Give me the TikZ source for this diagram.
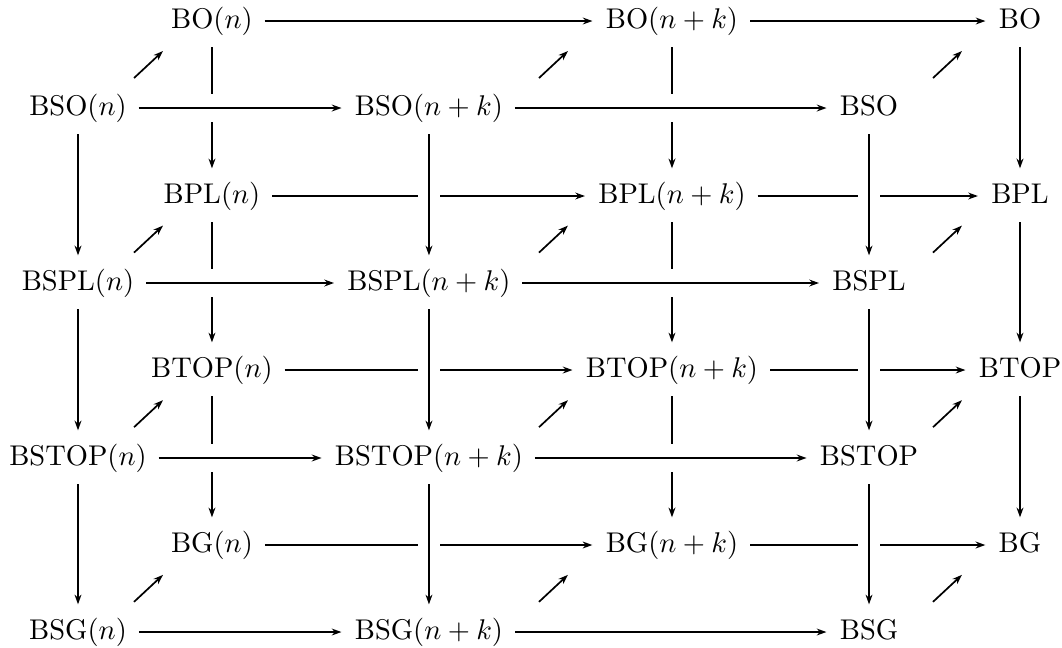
\documentclass[tikz,border=0pt]{standalone}
\usepackage{amsmath,amssymb}
\usetikzlibrary{arrows.meta}

\begin{document}
\begin{tikzpicture}[
  obj/.style={inner sep=4pt, text height=7.5pt, text depth=2.5pt},
  map/.style={-{Stealth[length=3.4pt,width=2.4pt]}, line width=0.6pt, shorten >=0.5pt},
  overh/.style={preaction={draw=white, -, line width=9.8pt}},
  overv/.style={preaction={draw=white, -, line width=7.7pt}}]
  \useasboundingbox (0,0) rectangle (13.097,-7.979);
  % back layer: unoriented groups
  \node[obj] (bon)    at (2.614,-0.259)  {$\mathrm{BO}(n)$};
  \node[obj] (bonk)   at (8.287,-0.259)  {$\mathrm{BO}(n+k)$};
  \node[obj] (bo)     at (12.579,-0.259) {$\mathrm{BO}$};
  \node[obj] (bpln)   at (2.614,-2.417)  {$\mathrm{BPL}(n)$};
  \node[obj] (bplnk)  at (8.287,-2.417)  {$\mathrm{BPL}(n+k)$};
  \node[obj] (bpl)    at (12.579,-2.417) {$\mathrm{BPL}$};
  \node[obj] (btopn)  at (2.614,-4.563)  {$\mathrm{BTOP}(n)$};
  \node[obj] (btopnk) at (8.287,-4.563)  {$\mathrm{BTOP}(n+k)$};
  \node[obj] (btop)   at (12.579,-4.563) {$\mathrm{BTOP}$};
  \node[obj] (bgn)    at (2.614,-6.721)  {$\mathrm{BG}(n)$};
  \node[obj] (bgnk)   at (8.287,-6.721)  {$\mathrm{BG}(n+k)$};
  \node[obj] (bg)     at (12.579,-6.721) {$\mathrm{BG}$};
  % front layer: oriented groups
  \node[obj] (bson)    at (0.962,-1.332)  {$\mathrm{BSO}(n)$};
  \node[obj] (bsonk)   at (5.290,-1.332)  {$\mathrm{BSO}(n+k)$};
  \node[obj] (bso)     at (10.717,-1.332) {$\mathrm{BSO}$};
  \node[obj] (bspln)   at (0.962,-3.490)  {$\mathrm{BSPL}(n)$};
  \node[obj] (bsplnk)  at (5.290,-3.490)  {$\mathrm{BSPL}(n+k)$};
  \node[obj] (bspl)    at (10.717,-3.490) {$\mathrm{BSPL}$};
  \node[obj] (bstopn)  at (0.962,-5.648)  {$\mathrm{BSTOP}(n)$};
  \node[obj] (bstopnk) at (5.290,-5.648)  {$\mathrm{BSTOP}(n+k)$};
  \node[obj] (bstop)   at (10.717,-5.648) {$\mathrm{BSTOP}$};
  \node[obj] (bsgn)    at (0.962,-7.794)  {$\mathrm{BSG}(n)$};
  \node[obj] (bsgnk)   at (5.290,-7.794)  {$\mathrm{BSG}(n+k)$};
  \node[obj] (bsg)     at (10.717,-7.794) {$\mathrm{BSG}$};
  % back maps
  \draw[map] (bon) -- (bonk);
  \draw[map] (bonk) -- (bo);
  \draw[map] (bpln) -- (bplnk);
  \draw[map] (bplnk) -- (bpl);
  \draw[map] (btopn) -- (btopnk);
  \draw[map] (btopnk) -- (btop);
  \draw[map] (bgn) -- (bgnk);
  \draw[map] (bgnk) -- (bg);
  \draw[map] (bon) -- (bpln);
  \draw[map] (bpln) -- (btopn);
  \draw[map] (btopn) -- (bgn);
  \draw[map] (bonk) -- (bplnk);
  \draw[map] (bplnk) -- (btopnk);
  \draw[map] (btopnk) -- (bgnk);
  \draw[map] (bo) -- (bpl);
  \draw[map] (bpl) -- (btop);
  \draw[map] (btop) -- (bg);
  % front maps, crossing over the back ones
  \draw[map, overh] (bson) -- (bsonk);
  \draw[map, overh] (bsonk) -- (bso);
  \draw[map, overh] (bspln) -- (bsplnk);
  \draw[map, overh] (bsplnk) -- (bspl);
  \draw[map, overh] (bstopn) -- (bstopnk);
  \draw[map, overh] (bstopnk) -- (bstop);
  \draw[map, overh] (bsgn) -- (bsgnk);
  \draw[map, overh] (bsgnk) -- (bsg);
  \draw[map, overv] (bson) -- (bspln);
  \draw[map, overv] (bspln) -- (bstopn);
  \draw[map, overv] (bstopn) -- (bsgn);
  \draw[map, overv] (bsonk) -- (bsplnk);
  \draw[map, overv] (bsplnk) -- (bstopnk);
  \draw[map, overv] (bstopnk) -- (bsgnk);
  \draw[map, overv] (bso) -- (bspl);
  \draw[map, overv] (bspl) -- (bstop);
  \draw[map, overv] (bstop) -- (bsg);
  % front to back: short diagonal arrows
  \coordinate (incso1)   at (1.653,-0.962);
  \coordinate (incso2)   at (6.647,-0.962);
  \coordinate (incso3)   at (11.506,-0.962);
  \coordinate (incspl1)  at (1.653,-3.115);
  \coordinate (incspl2)  at (6.647,-3.115);
  \coordinate (incspl3)  at (11.506,-3.115);
  \coordinate (incstop1) at (1.653,-5.268);
  \coordinate (incstop2) at (6.647,-5.268);
  \coordinate (incstop3) at (11.506,-5.268);
  \coordinate (incsg1)   at (1.653,-7.422);
  \coordinate (incsg2)   at (6.647,-7.422);
  \coordinate (incsg3)   at (11.506,-7.422);
  \draw[map] (incso1) -- ++(0.37,0.345);
  \draw[map] (incso2) -- ++(0.37,0.345);
  \draw[map] (incso3) -- ++(0.37,0.345);
  \draw[map] (incspl1) -- ++(0.37,0.345);
  \draw[map] (incspl2) -- ++(0.37,0.345);
  \draw[map] (incspl3) -- ++(0.37,0.345);
  \draw[map] (incstop1) -- ++(0.37,0.345);
  \draw[map] (incstop2) -- ++(0.37,0.345);
  \draw[map] (incstop3) -- ++(0.37,0.345);
  \draw[map] (incsg1) -- ++(0.37,0.345);
  \draw[map] (incsg2) -- ++(0.37,0.345);
  \draw[map] (incsg3) -- ++(0.37,0.345);
\end{tikzpicture}
\end{document}
